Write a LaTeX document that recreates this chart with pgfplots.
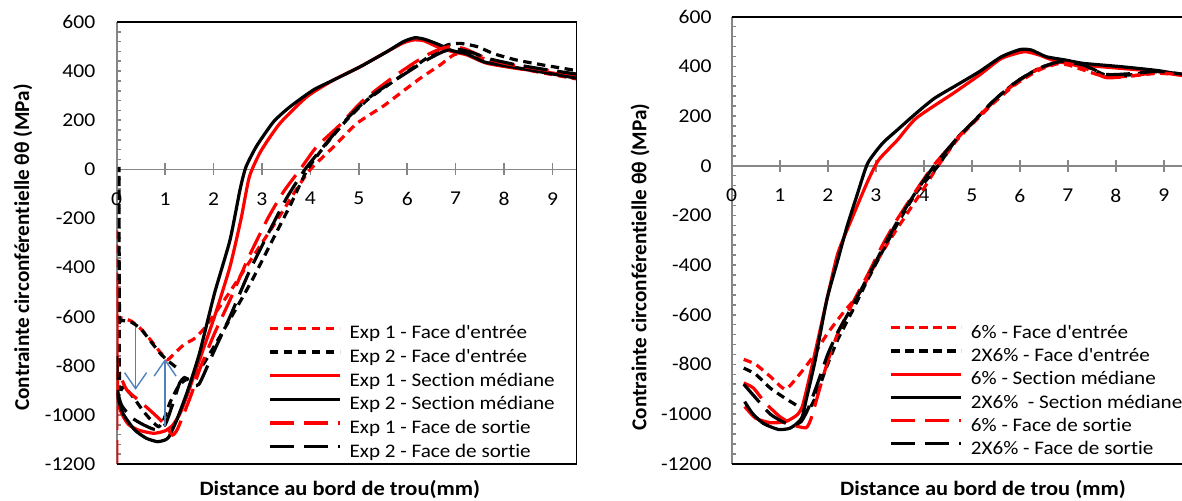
\documentclass[border=0pt]{standalone}
\usepackage{fontspec}
\setmainfont{Carlito}[FakeStretch=1.1, Ligatures={NoCommon}]
\newfontfamily\ylabfont{Carlito}[Ligatures={NoCommon}]
\usepackage{pgfplots}
\pgfplotsset{compat=1.18}
\usetikzlibrary{arrows.meta}
\definecolor{axgray}{RGB}{134,134,134}
\definecolor{arrowblue}{RGB}{79,129,189}
\definecolor{myred}{RGB}{255,0,0}
\newcommand{\tickfont}{\fontsize{9.8}{11.6}\selectfont}
\newcommand{\legfont}{\fontsize{9.6}{11.6}\selectfont}
\tikzset{
  sdash/.style={dash pattern=on 4.2pt off 2.8pt},
  ldash/.style={dash pattern=on 12pt off 5pt},
}
\pgfplotsset{
  mystyle/.style={
    scale only axis,
    clip mode=individual,
    axis x line=middle,
    axis y line=left,
    x axis line style={-, axgray, line width=0.8pt},
    y axis line style={-, axgray, line width=0.8pt},
    every inner x axis line/.append style={-},
    every outer y axis line/.append style={-},
    xmin=0, ymin=-1200, ymax=600,
    xtick={0,1,...,9},
    ytick={-1200,-1000,...,600},
    minor ytick={-1200,-1160,...,600},
    tick align=inside,
    major tick length=6pt,
    minor tick length=2.2pt,
    every major y tick/.append style={draw=none},
    x tick style={axgray, line width=0.8pt, yshift=-3pt},
    y tick style={axgray, line width=0.8pt},
    /pgf/number format/.cd, 1000 sep={}, assume math mode=true, /pgfplots/.cd,
    tick label style={font=\tickfont},
    xticklabel style={anchor=north, yshift=-8pt},
    yticklabel style={anchor=east, xshift=-7.2pt},
    legend image code/.code={\draw[#1] (0pt,3.3pt) -- (35pt,3.3pt);},
    legend style={draw=none, fill=none, anchor=north west,
      font=\legfont, inner sep=0pt, row sep=0pt,
      cells={anchor=west},
      nodes={inner sep=0pt, text height=7.9pt, text depth=3.95pt},
      /tikz/every odd column/.append style={column sep=4pt}},
    xlabel style={anchor=center, font=\fontsize{10.2}{12}\selectfont},
    ylabel style={anchor=center, font=\fontsize{10.6}{12}\selectfont},
  },
  cur/.style={line width=1.6pt, smooth, tension=0.35},
}
\begin{document}
\begin{tikzpicture}
% ---------------- LEFT CHART ----------------
\begin{axis}[mystyle, at={(58.35pt,18pt)}, anchor=south west,
  width=230pt, height=221pt, xmax=9.5,
  xlabel={\bfseries Distance au bord de trou(mm)},
  ylabel={\ylabfont\bfseries Contrainte circonférentielle θθ (MPa)},
  xlabel style={at={(axis description cs:0.485,-0.057)}},
  ylabel style={at={(axis description cs:-0.204,0.49)}},
  legend style={at={(axis description cs:0.329,0.320)}},
]
\addplot[cur, myred, sdash] coordinates {
(0.0,-250) (0.0,-450) (0.01,-600) (0.1,-605) (0.3,-618) (0.5,-650) (0.7,-695) (0.9,-745) (1.05,-775) (1.2,-748) (1.4,-712) (1.6,-690) (1.8,-650) (2.0,-595) (2.3,-510) (2.7,-390) (3.0,-300) (3.4,-180) (3.7,-85) (4.0,0) (4.48,92) (4.96,187) (5.51,258) (5.85,309) (6.27,371) (6.68,425) (6.96,466) (7.2,472) (7.6,450) (8.0,425) (8.6,400) (9.5,368)};
\addlegendentry{Exp 1 - Face d\textquotesingle entrée}
\addplot[cur, black, sdash] coordinates {
(1.22,-805) (1.05,-778) (0.9,-750) (0.7,-700) (0.5,-650) (0.3,-622) (0.12,-615) (0.06,-600) (0.05,-300) (0.05,10) (0.05,-300) (0.06,-870) (0.15,-885) (0.35,-930) (0.55,-985) (0.75,-1030) (0.87,-1048) (0.97,-1020) (1.1,-950) (1.27,-885) (1.4,-860) (1.6,-840) (1.8,-790) (2.0,-725) (2.4,-590) (2.8,-450) (3.2,-295) (3.6,-140) (3.94,0) (4.34,106) (4.75,201) (5.17,282) (5.51,330) (5.85,377) (6.2,425) (6.54,472) (6.82,506) (7.09,513) (7.44,500) (7.8,470) (8.26,445) (8.8,425) (9.5,402)};
\addlegendentry{Exp 2 - Face d\textquotesingle entrée}
\addplot[cur, myred] coordinates {
(0.0,-450) (0.01,-800) (0.03,-950) (0.13,-1005) (0.25,-1040) (0.45,-1062) (0.76,-1075) (1.0,-1065) (1.16,-1041) (1.31,-994) (1.47,-912) (1.71,-776) (2.02,-600) (2.34,-396) (2.57,-200) (2.74,-30) (2.98,75) (3.37,187) (3.93,296) (4.48,364) (5.03,418) (5.58,479) (5.92,515) (6.13,527) (6.34,524) (6.61,500) (6.82,486) (7.0,476) (7.23,466) (7.64,432) (8.26,411) (8.9,395) (9.5,378)};
\addlegendentry{Exp 1 - Section médiane}
\addplot[cur, black] coordinates {
(0.0,-910) (0.13,-994) (0.37,-1061) (0.61,-1095) (0.84,-1109) (1.0,-1102) (1.08,-1089) (1.24,-1021) (1.47,-899) (1.71,-749) (2.02,-505) (2.34,-288) (2.55,-80) (2.67,10) (2.89,95) (3.24,194) (3.58,255) (4.06,323) (4.48,364) (5.03,418) (5.58,479) (5.92,520) (6.16,536) (6.37,529) (6.68,506) (6.89,486) (7.02,479) (7.23,470) (7.58,438) (7.92,425) (8.61,402) (9.5,371)};
\addlegendentry{Exp 2 - Section médiane}
\addplot[cur, myred, ldash] coordinates {
(0.0,-1200) (0.0,-1000) (0.01,-830) (0.08,-845) (0.21,-899) (0.45,-940) (0.76,-994) (1.0,-1040) (1.15,-1082) (1.25,-1060) (1.39,-994) (1.55,-912) (1.71,-817) (2.02,-668) (2.34,-532) (2.73,-356) (3.12,-200) (3.45,-90) (3.79,0) (4.13,92) (4.61,181) (5.03,270) (5.37,325) (5.72,377) (6.13,432) (6.47,472) (6.75,495) (6.95,500) (7.2,490) (7.6,455) (8.0,432) (8.6,412) (9.5,385)};
\addlegendentry{Exp 1 - Face de sortie}
\addplot[cur, black, ldash] coordinates {
(0.0,-760) (0.02,-900) (0.1,-960) (0.3,-1010) (0.55,-1040) (0.8,-1060) (1.0,-1040) (1.15,-960) (1.3,-870) (1.4,-848) (1.5,-862) (1.6,-882) (1.7,-875) (1.8,-835) (2.02,-736) (2.34,-600) (2.73,-420) (3.12,-265) (3.5,-120) (3.89,0) (4.3,100) (4.8,215) (5.2,290) (5.6,345) (6.0,395) (6.4,445) (6.75,480) (7.0,490) (7.3,478) (7.7,450) (8.2,428) (8.8,408) (9.5,388)};
\addlegendentry{Exp 2 - Face de sortie}
\draw[arrowblue, line width=0.7pt, -{Straight Barb[length=8pt, width=11pt]}] (axis cs:0.39,-641) -- (axis cs:0.39,-898);
\draw[arrowblue, line width=0.7pt, -{Straight Barb[length=8pt, width=11pt]}] (axis cs:1.0,-1047) -- (axis cs:1.0,-772);
\draw[black, line width=0.8pt] (rel axis cs:0,0) -- (rel axis cs:1,0) -- (rel axis cs:1,1) -- (rel axis cs:0,1);
\node[font=\tickfont, anchor=north, yshift=-8pt] at (axis cs:0,0) {0};
\end{axis}
% ---------------- RIGHT CHART ----------------
\begin{axis}[mystyle, at={(365.85pt,18.15pt)}, anchor=south west,
  width=225.15pt, height=223.5pt, xmax=9.38,
  xlabel={\bfseries Distance au bord de trou (mm)},
  ylabel={\ylabfont\bfseries Contrainte circonférentielle θθ (MPa)},
  xlabel style={at={(axis description cs:0.558,-0.0566)}},
  ylabel style={at={(axis description cs:-0.2036,0.44)}},
  legend style={at={(axis description cs:0.35,0.316)}, nodes={text height=7.8pt, text depth=3.8pt}},
  yticklabel style={xshift=0.6pt},
]
\addplot[cur, myred, sdash] coordinates {
(0.25,-780) (0.5,-800) (0.81,-850) (1.12,-900) (1.43,-836) (1.67,-775) (1.98,-680) (2.29,-600) (2.67,-510) (2.98,-400) (3.29,-300) (3.68,-185) (3.99,-95) (4.3,0) (4.69,103) (5.0,165) (5.47,255) (5.93,330) (6.4,385) (6.78,410) (7.02,405) (7.33,385) (7.79,358) (8.26,360) (8.88,372) (9.42,365)};
\addlegendentry{6\% - Face d\textquotesingle entrée}
\addplot[cur, black, sdash] coordinates {
(0.25,-815) (0.5,-840) (0.8,-895) (1.1,-935) (1.35,-965) (1.5,-990) (1.6,-985) (1.75,-930) (1.98,-809) (2.21,-700) (2.5,-590) (2.83,-460) (3.14,-345) (3.45,-235) (3.84,-110) (4.3,0) (4.69,110) (5.0,170) (5.47,264) (5.93,338) (6.4,392) (6.86,419) (7.33,405) (7.79,365) (8.26,365) (8.88,379) (9.42,365)};
\addlegendentry{2X6\% - Face d\textquotesingle entrée}
\addplot[cur, myred] coordinates {
(0.27,-970) (0.5,-1017) (0.81,-1035) (1.12,-1031) (1.36,-1004) (1.47,-970) (1.59,-877) (1.78,-715) (1.98,-541) (2.21,-353) (2.52,-205) (2.83,-64) (3.06,23) (3.45,103) (3.84,191) (4.61,291) (5.16,365) (5.62,432) (6.09,459) (6.4,446) (6.78,419) (7.33,405) (8.1,392) (8.88,379) (9.42,365)};
\addlegendentry{6\% - Section médiane}
\addplot[cur, black] coordinates {
(0.27,-950) (0.43,-997) (0.66,-1038) (0.97,-1062) (1.2,-1058) (1.36,-1038) (1.47,-1011) (1.55,-944) (1.74,-783) (1.98,-541) (2.21,-380) (2.4,-246) (2.6,-125) (2.83,9) (3.14,90) (3.45,144) (3.84,211) (4.22,271) (4.69,325) (5.16,379) (5.62,439) (6.01,468) (6.24,466) (6.55,439) (6.94,426) (7.33,412) (8.1,399) (8.88,383) (9.42,365)};
\addlegendentry{2X6\%\ \ - Section médiane}
\addplot[cur, myred, ldash] coordinates {
(0.25,-875) (0.45,-895) (0.7,-955) (1.0,-1010) (1.3,-1045) (1.55,-1055) (1.65,-1020) (1.8,-920) (1.98,-800) (2.2,-680) (2.5,-560) (2.83,-440) (3.14,-320) (3.45,-215) (3.84,-100) (4.2,0) (4.69,108) (5.0,170) (5.47,260) (5.93,335) (6.4,390) (6.86,415) (7.33,395) (7.79,355) (8.26,360) (8.88,375) (9.42,362)};
\addlegendentry{6\% - Face de sortie}
\addplot[cur, black, ldash] coordinates {
(0.25,-880) (0.5,-935) (0.8,-1000) (1.1,-1035) (1.3,-1042) (1.45,-1030) (1.6,-975) (1.8,-870) (2.0,-760) (2.21,-670) (2.5,-570) (2.83,-450) (3.14,-335) (3.45,-225) (3.84,-105) (4.22,0) (4.69,110) (5.0,170) (5.47,264) (5.93,338) (6.4,392) (6.86,420) (7.33,405) (7.79,368) (8.26,370) (8.88,380) (9.42,368)};
\addlegendentry{2X6\% - Face de sortie}
\draw[black, line width=0.8pt] (rel axis cs:0,0) -- (rel axis cs:1,0);
\draw[black, line width=0.8pt] (rel axis cs:0,1) -- (rel axis cs:1,1);
\node[font=\tickfont, anchor=north, yshift=-8pt] at (axis cs:0,0) {0};
\end{axis}
\pgfresetboundingbox
\useasboundingbox (0,0) rectangle (591pt,250pt);
\end{tikzpicture}
\end{document}
